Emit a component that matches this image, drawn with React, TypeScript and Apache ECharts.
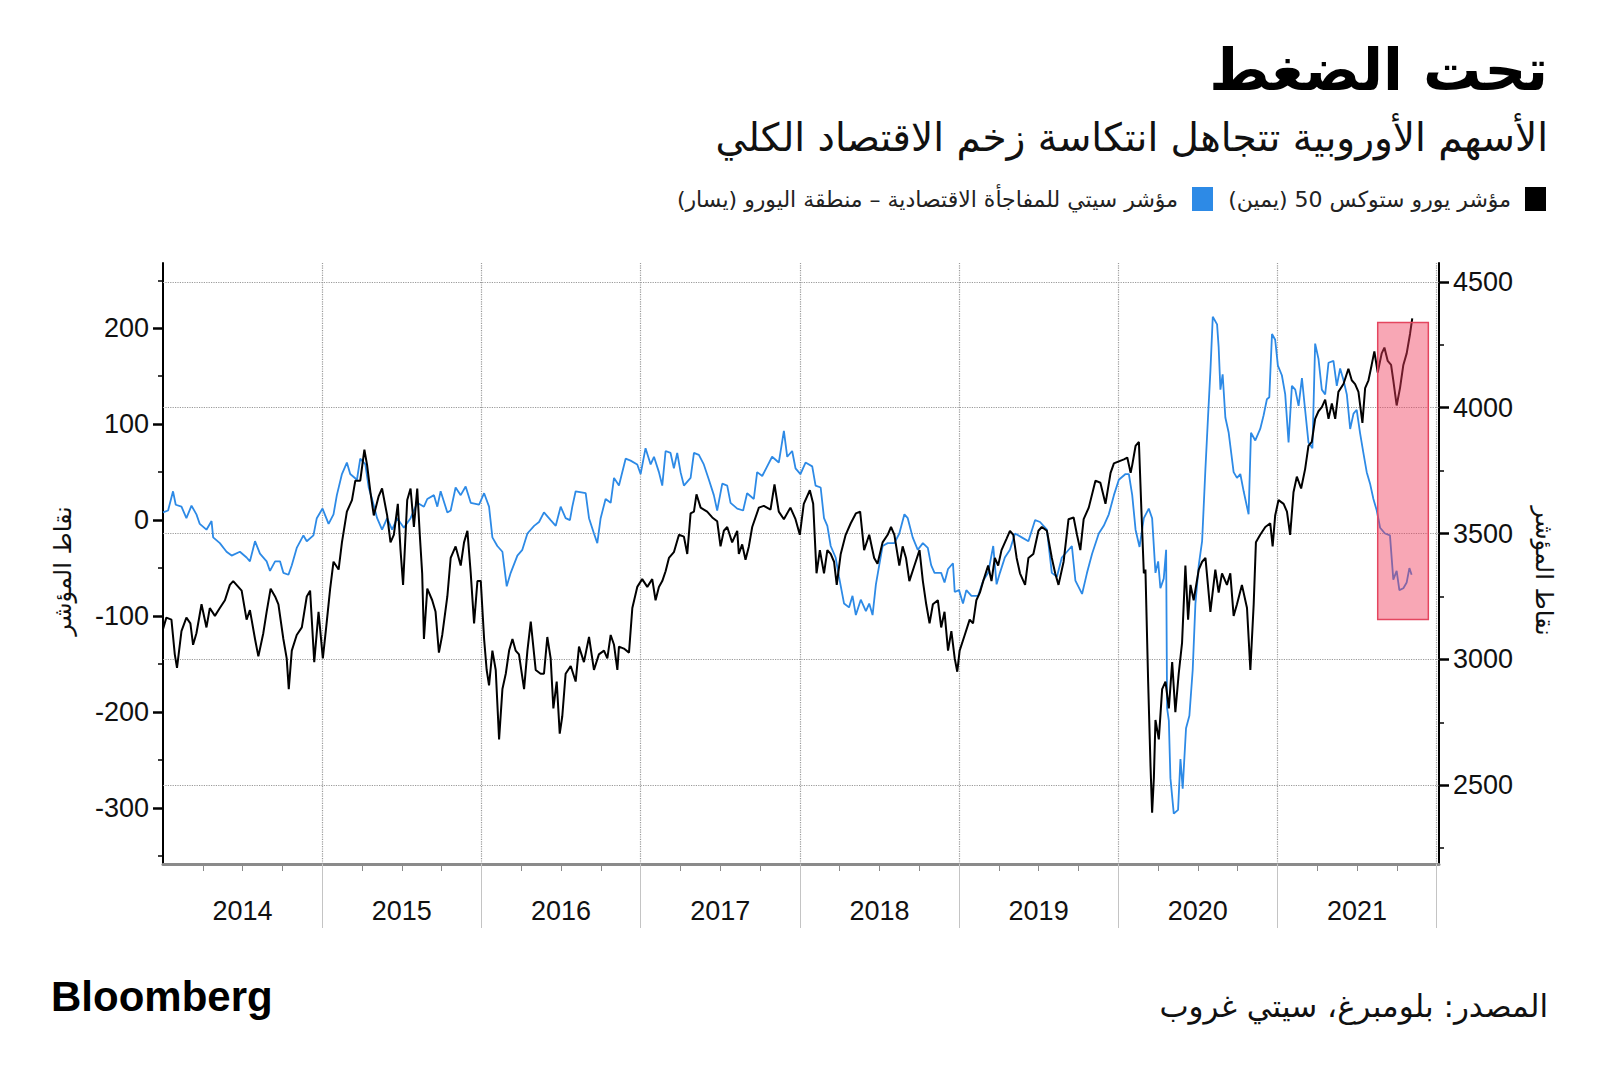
import React, { useEffect, useRef } from "react";
import * as echarts from "echarts";

// ---------- DATA ----------
const years = [2014, 2015, 2016, 2017, 2018, 2019, 2020, 2021];
const yearBoundaries = [2015, 2016, 2017, 2018, 2019, 2020, 2021, 2022];
const leftTicks = [-300, -200, -100, 0, 100, 200];
const leftMinorTicks = [-350, -250, -150, -50, 50, 150, 250];
const rightTicks = [2500, 3000, 3500, 4000, 4500];
const rightMinorTicks = [2250, 2750, 3250, 3750, 4250];

const titleText = "تحت الضغط";
const subtitleText = "الأسهم الأوروبية تتجاهل انتكاسة زخم الاقتصاد الكلي";
const stoxxLegend = "مؤشر يورو ستوكس 50 (يمين)\u200F";
const citiLegend = "مؤشر سيتي للمفاجأة الاقتصادية – منطقة اليورو (يسار)\u200F";
const axisNameText = "نقاط المؤشر";
const sourceText = "المصدر: بلومبرغ، سيتي غروب";

// highlighted window: [start, end] in years, [top, bottom] in index points (right axis)
const highlightX = [2021.63, 2021.948];
const highlightY = [4339, 3158];

// Citi Economic Surprise Index – Eurozone (left axis), [decimal year, value]
const citiSeries = [
  [2014.0, 8], [2014.032, 10], [2014.063, 30], [2014.08, 16], [2014.116, 14], [2014.147, 2], [2014.179, 15], [2014.21, 6],
  [2014.231, -4], [2014.273, -10], [2014.305, -1], [2014.315, -18], [2014.357, -24], [2014.399, -33], [2014.431, -37],
  [2014.483, -33], [2014.525, -39], [2014.546, -43], [2014.578, -22], [2014.609, -35], [2014.651, -43], [2014.672, -53],
  [2014.704, -43], [2014.735, -43], [2014.756, -55], [2014.788, -57], [2014.809, -47], [2014.84, -29], [2014.882, -16],
  [2014.903, -22], [2014.945, -16], [2014.966, 2], [2015.002, 12], [2015.04, -4], [2015.071, 6], [2015.092, 26],
  [2015.124, 48], [2015.155, 60], [2015.176, 48], [2015.218, 42], [2015.239, 64], [2015.271, 58], [2015.292, 34],
  [2015.313, 22], [2015.345, 2], [2015.376, -10], [2015.408, 2], [2015.439, -10], [2015.471, 2], [2015.513, -8],
  [2015.555, 2], [2015.597, 18], [2015.639, 14], [2015.66, 22], [2015.702, 26], [2015.723, 14], [2015.744, 30],
  [2015.786, 8], [2015.807, 10], [2015.838, 34], [2015.87, 26], [2015.901, 35], [2015.933, 18], [2015.985, 16],
  [2016.017, 28], [2016.048, 14], [2016.069, -18], [2016.1, -27], [2016.132, -33], [2016.159, -69], [2016.184, -55],
  [2016.226, -37], [2016.257, -31], [2016.289, -14], [2016.331, -6], [2016.362, -2], [2016.393, 8], [2016.435, 0],
  [2016.467, -6], [2016.498, 14], [2016.529, 2], [2016.556, 0], [2016.571, 14], [2016.592, 30], [2016.655, 28],
  [2016.676, 2], [2016.707, -14], [2016.728, -24], [2016.749, 2], [2016.78, 22], [2016.812, 18], [2016.833, 44],
  [2016.864, 36], [2016.906, 64], [2016.937, 62], [2016.979, 58], [2017.0, 48], [2017.031, 75], [2017.063, 58],
  [2017.084, 66], [2017.115, 50], [2017.136, 36], [2017.157, 72], [2017.188, 70], [2017.209, 54], [2017.23, 70],
  [2017.251, 50], [2017.272, 36], [2017.314, 44], [2017.335, 70], [2017.366, 68], [2017.397, 58], [2017.429, 42],
  [2017.46, 26], [2017.481, 10], [2017.513, 38], [2017.544, 36], [2017.565, 18], [2017.607, 12], [2017.644, 10],
  [2017.669, 28], [2017.711, 22], [2017.732, 50], [2017.764, 46], [2017.795, 56], [2017.826, 66], [2017.868, 60],
  [2017.9, 93], [2017.921, 66], [2017.952, 72], [2017.973, 54], [2018.004, 48], [2018.036, 60],
  [2018.078, 56], [2018.099, 36], [2018.131, 34], [2018.152, 2], [2018.173, -6], [2018.194, -27], [2018.225, -39],
  [2018.246, -59], [2018.278, -87], [2018.309, -91], [2018.331, -79], [2018.352, -99], [2018.383, -83], [2018.415, -95],
  [2018.436, -87], [2018.457, -99], [2018.478, -67], [2018.499, -47], [2018.52, -27], [2018.552, -24], [2018.594, -24],
  [2018.625, -14], [2018.657, 6], [2018.678, 2], [2018.709, -18], [2018.741, -31], [2018.773, -24], [2018.804, -29],
  [2018.825, -47], [2018.846, -55], [2018.888, -55], [2018.909, -65], [2018.931, -51], [2018.962, -45], [2018.973, -75],
  [2019.0, -73], [2019.025, -87], [2019.046, -73], [2019.078, -79], [2019.12, -79], [2019.152, -63], [2019.183, -55],
  [2019.215, -27], [2019.236, -67], [2019.257, -55], [2019.288, -39], [2019.32, -31], [2019.352, -14], [2019.394, -18],
  [2019.436, -22], [2019.478, 0], [2019.509, -2], [2019.552, -10], [2019.583, -55], [2019.615, -59], [2019.646, -39],
  [2019.678, -33], [2019.709, -27], [2019.731, -63], [2019.773, -77], [2019.804, -55], [2019.836, -35], [2019.878, -14],
  [2019.909, -6], [2019.941, 6], [2019.973, 26], [2020.004, 42], [2020.046, 48],
  [2020.067, 48], [2020.088, 26], [2020.109, -10], [2020.134, -28], [2020.161, 2], [2020.192, 12], [2020.213, 2],
  [2020.234, -55], [2020.251, -43], [2020.265, -71], [2020.286, -61], [2020.301, -31], [2020.307, -196], [2020.318, -209],
  [2020.328, -269], [2020.349, -306], [2020.376, -302], [2020.391, -249], [2020.405, -280], [2020.426, -217],
  [2020.447, -204], [2020.468, -156], [2020.485, -87], [2020.506, -47], [2020.527, -22], [2020.548, 54], [2020.564, 107],
  [2020.579, 155], [2020.594, 212], [2020.621, 204], [2020.631, 180], [2020.642, 136], [2020.656, 152], [2020.673, 107],
  [2020.694, 91], [2020.725, 50], [2020.746, 44], [2020.767, 48], [2020.788, 30], [2020.819, 6], [2020.834, 91],
  [2020.861, 83], [2020.892, 95], [2020.913, 109], [2020.934, 126], [2020.949, 128], [2020.966, 194], [2020.986, 188],
  [2021.003, 161], [2021.028, 151], [2021.049, 131], [2021.07, 81], [2021.091, 140], [2021.112, 136], [2021.133, 119],
  [2021.154, 148], [2021.174, 115], [2021.195, 81], [2021.22, 75], [2021.237, 184], [2021.258, 168], [2021.279, 136],
  [2021.3, 131], [2021.321, 164], [2021.352, 166], [2021.373, 140], [2021.394, 158], [2021.415, 146], [2021.436, 131],
  [2021.457, 95], [2021.478, 111], [2021.498, 115], [2021.519, 91], [2021.54, 70], [2021.561, 50], [2021.582, 38],
  [2021.603, 22], [2021.624, 10], [2021.645, -8], [2021.676, -14], [2021.707, -16], [2021.728, -62], [2021.749, -53],
  [2021.766, -73], [2021.791, -71], [2021.812, -65], [2021.829, -50], [2021.843, -57],
];

// Euro Stoxx 50 (right axis), [decimal year, value]
const stoxxSeries = [
  [2014.0, 3120], [2014.021, 3166], [2014.053, 3158], [2014.074, 3020], [2014.088, 2966], [2014.116, 3112],
  [2014.147, 3166], [2014.172, 3143], [2014.189, 3058], [2014.21, 3104], [2014.242, 3219], [2014.273, 3127],
  [2014.294, 3204], [2014.326, 3173], [2014.357, 3204], [2014.389, 3235], [2014.42, 3296], [2014.441, 3311],
  [2014.473, 3288], [2014.494, 3273], [2014.525, 3158], [2014.546, 3196], [2014.578, 3081], [2014.599, 3012],
  [2014.63, 3104], [2014.651, 3189], [2014.676, 3281], [2014.704, 3250], [2014.725, 3219], [2014.756, 3081],
  [2014.777, 3004], [2014.79, 2882], [2014.809, 3035], [2014.84, 3097], [2014.872, 3127], [2014.903, 3250],
  [2014.924, 3273], [2014.95, 2989], [2014.977, 3189], [2015.004, 3004], [2015.025, 3127], [2015.05, 3281],
  [2015.071, 3388], [2015.103, 3357], [2015.124, 3465], [2015.155, 3587], [2015.187, 3633], [2015.208, 3710],
  [2015.239, 3710], [2015.265, 3833], [2015.282, 3772], [2015.303, 3664], [2015.324, 3572], [2015.355, 3649],
  [2015.376, 3679], [2015.408, 3572], [2015.429, 3465], [2015.45, 3495], [2015.475, 3618], [2015.492, 3434],
  [2015.508, 3296], [2015.534, 3633], [2015.555, 3679], [2015.576, 3526], [2015.597, 3679], [2015.613, 3495],
  [2015.628, 3342], [2015.639, 3081], [2015.66, 3281], [2015.691, 3235], [2015.712, 3189], [2015.733, 3027],
  [2015.754, 3097], [2015.786, 3250], [2015.807, 3403], [2015.838, 3449], [2015.87, 3373], [2015.891, 3465],
  [2015.912, 3511], [2015.933, 3342], [2015.954, 3143], [2015.975, 3311], [2015.996, 3311],
  [2016.017, 3081], [2016.033, 2958], [2016.048, 2897], [2016.069, 3035], [2016.09, 2958], [2016.111, 2682],
  [2016.132, 2882], [2016.153, 2943], [2016.174, 3035], [2016.195, 3081], [2016.215, 3035], [2016.236, 3020],
  [2016.268, 2882], [2016.289, 3035], [2016.31, 3150], [2016.341, 2958], [2016.372, 2943], [2016.393, 2943],
  [2016.414, 3089], [2016.435, 3004], [2016.452, 2805], [2016.473, 2912], [2016.492, 2705], [2016.508, 2774],
  [2016.529, 2943], [2016.561, 2974], [2016.592, 2912], [2016.613, 3051], [2016.644, 2989], [2016.676, 3089],
  [2016.707, 2958], [2016.738, 3020], [2016.77, 3035], [2016.791, 3004], [2016.812, 3097], [2016.833, 3058],
  [2016.854, 2958], [2016.864, 3051], [2016.895, 3043], [2016.927, 3027], [2016.948, 3204], [2016.979, 3288],
  [2017.01, 3319], [2017.042, 3288], [2017.073, 3319], [2017.094, 3235], [2017.115, 3288], [2017.136, 3311],
  [2017.157, 3350], [2017.178, 3403], [2017.209, 3426], [2017.241, 3495], [2017.272, 3488], [2017.293, 3419],
  [2017.314, 3580], [2017.335, 3587], [2017.351, 3656], [2017.377, 3603], [2017.418, 3587], [2017.45, 3564],
  [2017.481, 3549], [2017.502, 3449], [2017.523, 3511], [2017.544, 3526], [2017.575, 3465], [2017.607, 3511],
  [2017.617, 3419], [2017.638, 3457], [2017.659, 3396], [2017.68, 3449], [2017.701, 3526], [2017.743, 3603],
  [2017.774, 3610], [2017.816, 3595], [2017.841, 3695], [2017.868, 3587], [2017.9, 3557], [2017.941, 3603],
  [2017.973, 3557], [2018.0, 3495], [2018.025, 3618],
  [2018.063, 3672], [2018.084, 3618], [2018.105, 3342], [2018.126, 3434], [2018.152, 3342], [2018.173, 3434],
  [2018.194, 3419], [2018.215, 3388], [2018.232, 3296], [2018.257, 3419], [2018.288, 3495], [2018.32, 3541],
  [2018.352, 3580], [2018.379, 3587], [2018.404, 3434], [2018.436, 3495], [2018.467, 3403], [2018.488, 3380],
  [2018.52, 3465], [2018.552, 3495], [2018.573, 3526], [2018.594, 3495], [2018.625, 3373], [2018.646, 3449],
  [2018.667, 3403], [2018.688, 3311], [2018.72, 3373], [2018.752, 3434], [2018.773, 3311], [2018.794, 3219],
  [2018.815, 3143], [2018.836, 3219], [2018.867, 3235], [2018.888, 3127], [2018.909, 3189], [2018.931, 3035],
  [2018.952, 3112], [2018.973, 3004], [2018.989, 2951], [2019.004, 3035], [2019.036, 3097], [2019.067, 3158],
  [2019.088, 3143], [2019.109, 3235], [2019.131, 3265], [2019.152, 3311], [2019.183, 3373], [2019.204, 3311],
  [2019.225, 3403], [2019.246, 3373], [2019.267, 3434], [2019.299, 3480], [2019.32, 3511], [2019.341, 3495],
  [2019.362, 3403], [2019.383, 3342], [2019.415, 3296], [2019.436, 3403], [2019.467, 3419], [2019.499, 3511],
  [2019.52, 3526], [2019.552, 3511], [2019.583, 3403], [2019.604, 3342], [2019.625, 3296], [2019.657, 3388],
  [2019.688, 3557], [2019.72, 3564], [2019.741, 3495], [2019.762, 3434], [2019.783, 3557], [2019.815, 3603],
  [2019.857, 3710], [2019.888, 3702], [2019.92, 3618], [2019.952, 3741], [2019.973, 3779], [2020.004, 3787],
  [2020.036, 3795], [2020.057, 3802], [2020.078, 3741],
  [2020.088, 3772], [2020.109, 3848], [2020.13, 3864], [2020.146, 3587], [2020.161, 3342], [2020.171, 3357],
  [2020.188, 2912], [2020.203, 2575], [2020.213, 2391], [2020.224, 2529], [2020.234, 2759], [2020.255, 2682],
  [2020.276, 2882], [2020.297, 2912], [2020.318, 2805], [2020.339, 2989], [2020.359, 2790], [2020.38, 2943],
  [2020.401, 3066], [2020.422, 3373], [2020.439, 3158], [2020.454, 3296], [2020.474, 3235], [2020.506, 3357],
  [2020.527, 3388], [2020.548, 3403], [2020.579, 3189], [2020.61, 3357], [2020.631, 3265], [2020.652, 3342],
  [2020.683, 3296], [2020.704, 3342], [2020.725, 3173], [2020.746, 3219], [2020.777, 3296], [2020.809, 3204],
  [2020.83, 2958], [2020.851, 3219], [2020.865, 3465], [2020.892, 3495], [2020.924, 3526], [2020.955, 3541],
  [2020.97, 3449], [2020.986, 3572], [2021.007, 3633], [2021.039, 3618], [2021.06, 3587], [2021.08, 3495],
  [2021.101, 3664], [2021.122, 3726], [2021.149, 3679], [2021.174, 3756], [2021.195, 3848], [2021.216, 3864],
  [2021.237, 3956], [2021.258, 3986], [2021.279, 4002], [2021.3, 4032], [2021.321, 3956], [2021.342, 4017],
  [2021.363, 3956], [2021.383, 4063], [2021.415, 4094], [2021.446, 4155], [2021.467, 4109], [2021.488, 4094],
  [2021.509, 4063], [2021.534, 3940], [2021.551, 4078], [2021.572, 4109], [2021.592, 4170], [2021.609, 4224],
  [2021.63, 4140], [2021.655, 4216], [2021.672, 4239], [2021.693, 4186], [2021.714, 4170], [2021.728, 4109],
  [2021.749, 4009], [2021.77, 4078], [2021.791, 4170], [2021.812, 4216], [2021.833, 4293], [2021.847, 4355],
];

// ---------- STYLE ----------
const AR = "'DejaVu Sans', sans-serif";
const NUM = "'Liberation Sans', Arial, sans-serif";
const BLUE = "#2d8ae6";

const quarterTicks: number[] = [];
years.forEach((y) => {
  quarterTicks.push(y + 0.25, y + 0.5, y + 0.75);
});

export default function App() {
  const ref = useRef<HTMLDivElement>(null);

  useEffect(() => {
    if (!ref.current) return;
    const chart = echarts.init(ref.current, null, { renderer: "svg" });

    const xBase = { type: "value", min: 2014, max: 2022.015, splitLine: { show: false } };
    const lMin = -358.5, lMax = 268, rMin = 2187, rMax = 4575;
    const plain = (v: number) => String(v);

    const option: any = {
      animation: false,
      backgroundColor: "#ffffff",
      grid: { left: 163, right: 161, top: 263, bottom: 210, containLabel: false },
      xAxis: [
        {
          ...xBase,
          position: "bottom",
          axisLine: { show: true, onZero: false, lineStyle: { color: "#8a8a8a", width: 3 } },
          axisTick: { show: true, customValues: quarterTicks, length: 7, lineStyle: { color: "#8a8a8a", width: 1 } },
          axisLabel: {
            show: true,
            customValues: years.map((y) => y + 0.5),
            formatter: (v: number) => String(Math.floor(v)),
            fontSize: 27,
            fontFamily: NUM,
            color: "#111",
            margin: 33,
          },
        },
        {
          ...xBase,
          position: "bottom",
          axisLine: { show: false, onZero: false },
          axisTick: { show: true, customValues: yearBoundaries, length: 64, lineStyle: { color: "#c4c4c4", width: 1 } },
          axisLabel: { show: false },
        },
      ],
      yAxis: [
        {
          type: "value", position: "left", min: lMin, max: lMax,
          axisLine: { show: true, onZero: false, lineStyle: { color: "#000", width: 2 } },
          axisTick: { show: true, customValues: leftTicks, length: 10, lineStyle: { color: "#000", width: 2.5 } },
          axisLabel: { customValues: leftTicks, formatter: plain, fontSize: 27, fontFamily: NUM, color: "#111", margin: 14 },
          splitLine: { show: false },
        },
        {
          type: "value", position: "right", min: rMin, max: rMax,
          axisLine: { show: true, onZero: false, lineStyle: { color: "#000", width: 2 } },
          axisTick: { show: true, customValues: rightTicks, length: 10, lineStyle: { color: "#000", width: 2.5 } },
          axisLabel: { customValues: rightTicks, formatter: plain, fontSize: 27, fontFamily: NUM, color: "#111", margin: 14 },
          splitLine: { show: false },
        },
        {
          type: "value", position: "left", min: lMin, max: lMax,
          axisLine: { show: false, onZero: false },
          axisTick: { show: true, customValues: leftMinorTicks, length: 5, lineStyle: { color: "#000", width: 1.5 } },
          axisLabel: { show: false },
          splitLine: { show: false },
        },
        {
          type: "value", position: "right", min: rMin, max: rMax,
          axisLine: { show: false, onZero: false },
          axisTick: { show: true, customValues: rightMinorTicks, length: 5, lineStyle: { color: "#000", width: 1.5 } },
          axisLabel: { show: false },
          splitLine: { show: false },
        },
      ],
      series: [
        {
          type: "line",
          name: "citi",
          xAxisIndex: 0,
          yAxisIndex: 0,
          data: citiSeries,
          showSymbol: false,
          symbol: "none",
          lineStyle: { color: BLUE, width: 1.8 },
          z: 3,
          markLine: {
            silent: true,
            z: 1,
            symbol: ["none", "none"],
            label: { show: false },
            lineStyle: { color: "#9a9a9a", type: "dotted", width: 1.2 },
            data: yearBoundaries.map((v) => ({ xAxis: v })),
          },
        },
        {
          type: "line",
          name: "stoxx",
          xAxisIndex: 0,
          yAxisIndex: 1,
          data: stoxxSeries,
          showSymbol: false,
          symbol: "none",
          lineStyle: { color: "#000", width: 2 },
          z: 4,
          markLine: {
            silent: true,
            z: 1,
            symbol: ["none", "none"],
            label: { show: false },
            lineStyle: { color: "#9a9a9a", type: "dotted", width: 1.2 },
            data: rightTicks.map((v) => ({ yAxis: v })),
          },
        },
        {
          type: "line",
          name: "highlight",
          xAxisIndex: 0,
          yAxisIndex: 1,
          data: [],
          showSymbol: false,
          markArea: {
            silent: true,
            z: 10,
            itemStyle: { color: "rgba(240, 60, 90, 0.45)", borderColor: "#e4465f", borderWidth: 1.5 },
            data: [[
              { xAxis: highlightX[0], yAxis: highlightY[0] },
              { xAxis: highlightX[1], yAxis: highlightY[1] },
            ]],
          },
        },
      ],
      graphic: [
        {
          type: "text", x: 1548, y: 70,
          style: { text: titleText, fontSize: 58, fontWeight: "bold", fontFamily: AR, fill: "#000", textAlign: "right", textVerticalAlign: "middle" },
        },
        {
          type: "text", x: 1548, y: 137,
          style: { text: subtitleText, fontSize: 39, fontFamily: AR, fill: "#111", textAlign: "right", textVerticalAlign: "middle" },
        },
        { type: "rect", shape: { x: 1525, y: 187, width: 21, height: 24 }, style: { fill: "#000" } },
        {
          type: "text", x: 1511, y: 199,
          style: { text: stoxxLegend, fontSize: 22, fontFamily: AR, fill: "#222", textAlign: "right", textVerticalAlign: "middle" },
        },
        { type: "rect", shape: { x: 1192, y: 187, width: 21, height: 24 }, style: { fill: BLUE } },
        {
          type: "text", x: 1178, y: 199,
          style: { text: citiLegend, fontSize: 22, fontFamily: AR, fill: "#222", textAlign: "right", textVerticalAlign: "middle" },
        },
        {
          type: "text", x: 63, y: 571, rotation: Math.PI / 2,
          style: { text: axisNameText, fontSize: 24, fontFamily: AR, fill: "#111", textAlign: "center", textVerticalAlign: "middle" },
        },
        {
          type: "text", x: 1544, y: 571, rotation: -Math.PI / 2,
          style: { text: axisNameText, fontSize: 24, fontFamily: AR, fill: "#111", textAlign: "center", textVerticalAlign: "middle" },
        },
        {
          type: "text", x: 1548, y: 1006,
          style: { text: sourceText, fontSize: 31, fontFamily: AR, fill: "#111", textAlign: "right", textVerticalAlign: "middle" },
        },
        {
          type: "text", x: 51, y: 996,
          style: { text: "Bloomberg", fontSize: 42, fontWeight: "bold", fontFamily: NUM, fill: "#000", textAlign: "left", textVerticalAlign: "middle" },
        },
      ],
    };

    chart.setOption(option);
    return () => chart.dispose();
  }, []);

  return (
    <div
      ref={ref}
      style={{ position: "absolute", left: 0, top: 0, width: 1600, height: 1074, background: "#fff" }}
    />
  );
}
